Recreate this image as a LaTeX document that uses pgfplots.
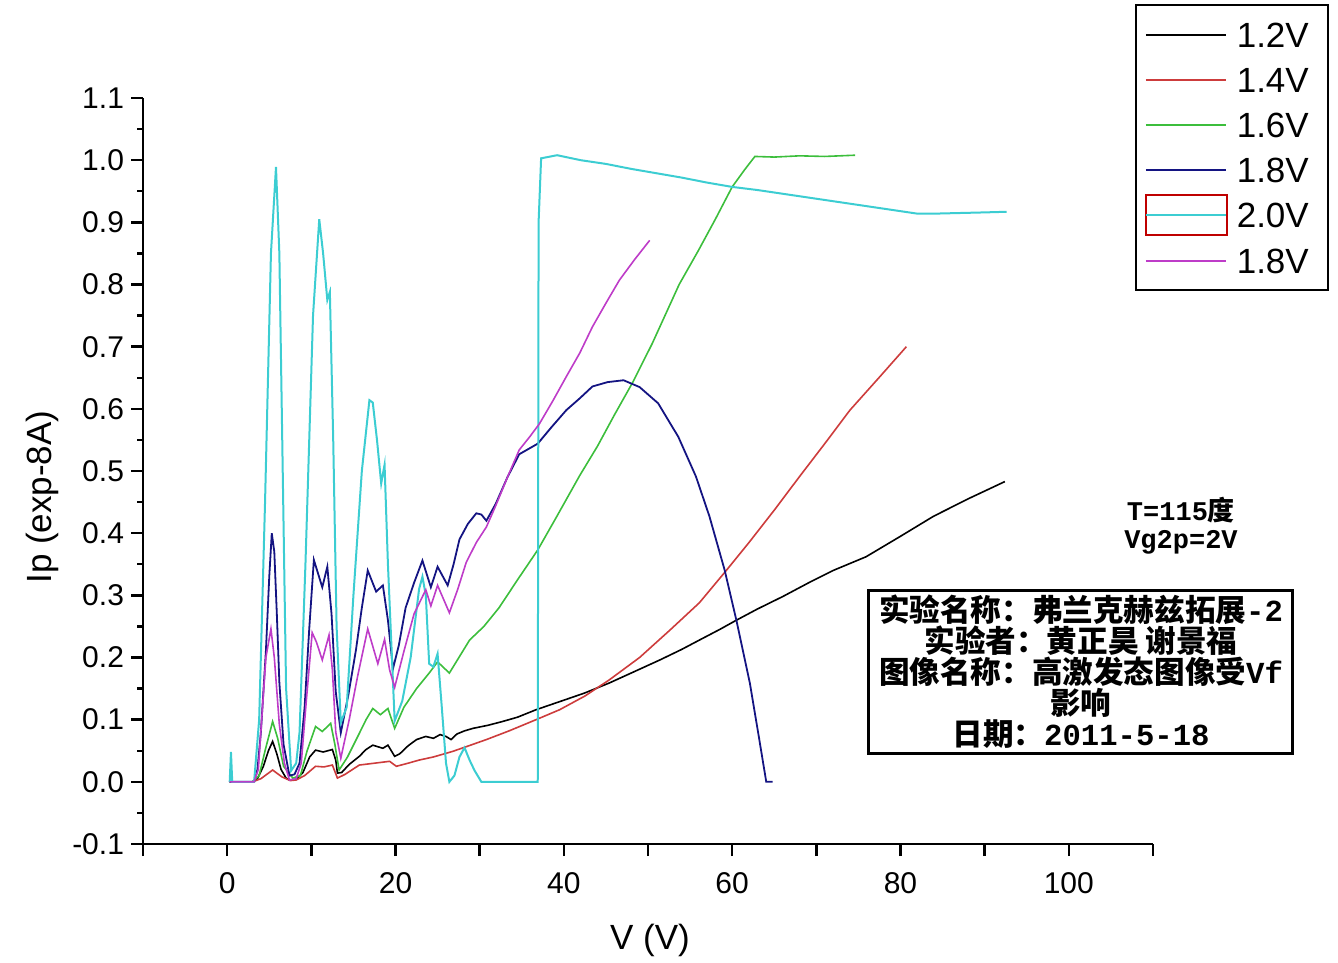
\documentclass[border=0pt]{standalone}
\usepackage{pgfplots}
\pgfplotsset{compat=1.18}
\usepackage{fontspec}
\setmainfont{Liberation Sans}
\newfontfamily\cjk{Noto Sans CJK SC}
\newfontfamily\mono{Liberation Mono}
\definecolor{cred}{RGB}{205,60,60}
\definecolor{cgreen}{RGB}{60,190,60}
\definecolor{cnavy}{RGB}{20,20,130}
\definecolor{ccyan}{RGB}{60,205,210}
\definecolor{cmag}{RGB}{190,60,200}
\pgfplotsset{
  lineleg/.style={legend image code/.code={\draw[##1, line width=1pt] (0pt,0pt) -- (40pt,0pt);}},
  boxleg/.style={legend image code/.code={\draw[overlay, red!75!black, line width=1pt] (0pt,-10pt) rectangle (40.5pt,10pt); \draw[##1, line width=1pt] (0pt,0pt) -- (40pt,0pt);}},
}
\begin{document}
\begin{tikzpicture}
\begin{axis}[
  scale only axis, width=505pt, height=373pt,
  xmin=-10, xmax=110, ymin=-0.1, ymax=1.1,
  axis x line*=bottom, axis y line*=left,
  axis line style={line width=1.4pt},
  xtick={-10,0,10,20,30,40,50,60,70,80,90,100,110},
  xticklabels={,0,,20,,40,,60,,80,,100,},
  ytick={-0.1,0,0.1,0.2,0.3,0.4,0.5,0.6,0.7,0.8,0.9,1.0,1.1},
  yticklabels={-0.1,0.0,0.1,0.2,0.3,0.4,0.5,0.6,0.7,0.8,0.9,1.0,1.1},
  minor ytick={-0.05,0.05,0.15,0.25,0.35,0.45,0.55,0.65,0.75,0.85,0.95,1.05},
  tick align=outside,
  major tick length=6pt, minor tick length=3pt,
  major tick style={line width=1.2pt, black},
  minor tick style={line width=1.2pt, black},
  tick label style={font=\fontsize{15}{17}\selectfont},
  xticklabel style={yshift=-4.5pt},
  every axis x label/.style={at={(rel axis cs:0.502,-0.1287)}, anchor=center, font=\fontsize{17.5}{20}\selectfont},
  every axis y label/.style={at={(rel axis cs:-0.1,0.465)}, rotate=90, anchor=center, font=\fontsize{17.5}{20}\selectfont},
  xlabel={V (V)}, ylabel={Ip (exp-8A)},
  clip=false,
  legend cell align=left,
  lineleg,
  legend style={at={(rel axis cs:0.982,1.126)}, anchor=north west, draw=black, line width=1pt,
    font=\fontsize{17.5}{20}\selectfont, inner xsep=4.5pt, inner ysep=6.5pt,
    nodes={inner xsep=5pt, inner ysep=2pt, text height=12.5pt, text depth=0pt}, row sep=6.1pt},
]
\addplot[black, line width=0.8pt] coordinates {(0.3,0)(1,0)(2,0)(3,0)(3.6,0.005)(4.3,0.025)(4.9,0.05)(5.4,0.065)(5.9,0.045)(6.4,0.02)(7.0,0.006)(7.4,0.003)(8.2,0.004)(9.0,0.015)(9.8,0.04)(10.5,0.051)(11.4,0.048)(12.5,0.052)(12.9,0.035)(13.1,0.014)(13.6,0.015)(14.5,0.028)(15.7,0.041)(16.5,0.052)(17.3,0.059)(18.5,0.054)(19.1,0.059)(19.9,0.041)(20.5,0.045)(21.5,0.058)(22.5,0.068)(23.6,0.073)(24.5,0.07)(25.3,0.076)(26.0,0.073)(26.6,0.068)(27.3,0.077)(28.2,0.082)(29.2,0.086)(31,0.091)(32.7,0.097)(34.5,0.104)(36.7,0.116)(39.5,0.129)(42.5,0.143)(45.4,0.159)(48,0.175)(51.4,0.196)(54,0.213)(56.1,0.228)(58.5,0.245)(60.5,0.26)(63,0.278)(66,0.298)(69.2,0.321)(72,0.34)(75.9,0.362)(80,0.395)(83.9,0.427)(88,0.455)(92.4,0.483)};
\addlegendentry{1.2V}
\addplot[cred, line width=0.8pt] coordinates {(0.3,0)(3,0)(4,0.005)(5.4,0.019)(6.5,0.008)(7.5,0.002)(8.2,0.003)(9.2,0.01)(10.5,0.025)(11.5,0.024)(12.5,0.027)(13.1,0.006)(14,0.012)(15.7,0.027)(17.5,0.03)(19.3,0.033)(20.1,0.025)(21.5,0.03)(22.8,0.035)(24.5,0.04)(26.8,0.049)(28.5,0.057)(30.8,0.068)(33.5,0.082)(36.7,0.10)(39.5,0.116)(42.5,0.138)(45.4,0.164)(49,0.2)(52.6,0.244)(56.1,0.288)(59.3,0.34)(62,0.385)(65,0.437)(68,0.491)(71,0.544)(74,0.598)(77.5,0.651)(80.7,0.70)};
\addlegendentry{1.4V}
\addplot[cgreen, line width=0.8pt] coordinates {(0.3,0)(3,0)(3.8,0.01)(4.5,0.05)(5.4,0.097)(6.0,0.07)(6.7,0.025)(7.8,0.006)(8.7,0.01)(9.5,0.05)(10.5,0.089)(11.3,0.081)(12.3,0.094)(12.8,0.06)(13.3,0.019)(14.3,0.04)(15.7,0.078)(16.5,0.1)(17.3,0.118)(18.2,0.108)(19.1,0.118)(19.9,0.086)(21,0.12)(22.5,0.15)(24.0,0.175)(25.0,0.193)(26.4,0.175)(28.8,0.228)(30.5,0.25)(32.3,0.28)(34.5,0.325)(36.9,0.373)(39,0.423)(41.9,0.493)(44,0.54)(46,0.59)(48.2,0.643)(50.5,0.705)(53.7,0.8)(56,0.855)(58,0.905)(60,0.957)(61.5,0.985)(62.7,1.006)(65,1.005)(68,1.007)(71,1.006)(74.6,1.008)};
\addlegendentry{1.6V}
\addplot[cnavy, line width=0.9pt] coordinates {(0.3,0)(3.2,0)(3.6,0.02)(4.0,0.079)(4.6,0.21)(5.0,0.33)(5.3,0.40)(5.6,0.37)(5.9,0.27)(6.2,0.16)(6.7,0.06)(7.4,0.01)(8.0,0.012)(8.6,0.03)(9.2,0.12)(9.75,0.246)(10.3,0.357)(10.8,0.335)(11.3,0.313)(11.9,0.346)(12.4,0.27)(12.9,0.145)(13.5,0.079)(14.4,0.14)(15.3,0.212)(16.0,0.28)(16.7,0.34)(17.7,0.306)(18.5,0.316)(19.1,0.26)(19.7,0.182)(20.4,0.22)(21.2,0.28)(22.2,0.32)(23.2,0.356)(24.2,0.313)(25.0,0.346)(26.2,0.316)(26.9,0.35)(27.6,0.39)(28.6,0.415)(29.6,0.432)(30.2,0.43)(30.8,0.42)(31.9,0.447)(33.3,0.49)(34.7,0.527)(36.9,0.544)(38.5,0.57)(40.3,0.598)(41.9,0.617)(43.4,0.636)(45.2,0.643)(47.1,0.646)(49,0.635)(51.2,0.609)(53.6,0.555)(55.7,0.491)(57.3,0.427)(59.1,0.341)(60.5,0.26)(62.1,0.159)(63.2,0.07)(64.05,0.0)(64.8,0)};
\addlegendentry{1.8V}
\addplot[ccyan, line width=1pt, boxleg] coordinates {(0.3,0)(0.45,0.048)(0.6,0)(1,0)(3.2,0)(3.8,0.1)(4.5,0.45)(5.2,0.85)(5.8,0.989)(6.2,0.85)(6.6,0.5)(7.0,0.15)(7.6,0.018)(8.2,0.03)(8.6,0.08)(9.3,0.35)(10.2,0.75)(10.94,0.905)(11.4,0.85)(11.9,0.775)(12.2,0.788)(12.6,0.55)(13.0,0.25)(13.5,0.095)(14.2,0.12)(15.0,0.3)(16.0,0.5)(16.9,0.614)(17.3,0.61)(17.8,0.55)(18.3,0.48)(18.7,0.51)(19.1,0.35)(19.9,0.098)(20.8,0.13)(21.8,0.2)(22.8,0.31)(23.2,0.33)(23.6,0.3)(24.0,0.19)(24.5,0.185)(25.0,0.206)(25.5,0.12)(26.0,0.03)(26.4,0.0)(27.0,0.01)(27.6,0.04)(28.2,0.055)(28.8,0.035)(29.4,0.018)(30.2,0)(33,0)(36.9,0)(37.0,0.9)(37.3,1.003)(39.2,1.008)(42,1.0)(45,0.994)(48,0.986)(51,0.979)(54,0.972)(57,0.964)(60,0.957)(63,0.952)(66,0.946)(69,0.94)(72,0.934)(75,0.928)(78,0.922)(80,0.918)(82,0.914)(84,0.914)(87,0.915)(90,0.916)(92.6,0.917)};
\addlegendentry{2.0V}
\addplot[cmag, line width=0.8pt] coordinates {(0.3,0)(3.2,0)(3.7,0.02)(4.2,0.12)(4.6,0.20)(5.2,0.246)(5.6,0.2)(6.2,0.092)(6.8,0.03)(7.4,0.003)(8.2,0.005)(8.8,0.03)(9.4,0.13)(10.1,0.24)(10.6,0.225)(11.3,0.196)(12.1,0.236)(12.5,0.18)(12.9,0.08)(13.5,0.038)(14.5,0.1)(15.5,0.17)(16.7,0.246)(17.9,0.19)(18.7,0.229)(19.3,0.18)(19.9,0.152)(21,0.21)(22.2,0.27)(23.6,0.309)(24.2,0.283)(25.0,0.316)(26.4,0.272)(27.4,0.31)(28.4,0.353)(29.6,0.385)(30.8,0.41)(31.9,0.444)(33.3,0.49)(34.7,0.534)(36,0.556)(37.1,0.576)(38.7,0.613)(40.3,0.652)(41.9,0.69)(43.4,0.732)(45,0.77)(46.6,0.807)(48.4,0.84)(50.2,0.871)};
\addlegendentry{1.8V}
\node[font=\cjk\bfseries\fontsize{13.5}{14}\selectfont, align=center, inner sep=0pt] at (rel axis cs:1.0277,0.4263) {{\mono\bfseries T=115}度\\{\mono\bfseries Vg2p=2V}};
\node[draw, line width=1.5pt, minimum width=212pt, minimum height=81.5pt, align=center, inner sep=0pt, execute at begin node={\lineskiplimit=-20pt\lineskip=0pt}, font=\cjk\bfseries\fontsize{15.3}{15.5}\selectfont] at (rel axis cs:0.9287,0.2312) {实验名称：弗兰克赫兹拓展{\mono\bfseries -2}\\实验者：黄正昊\ 谢景福\\图像名称：高激发态图像受{\mono\bfseries Vf}\\影响\\日期：{\mono\bfseries 2011-5-18}};
\path (rel axis cs:-0.1416,-0.1555) rectangle (rel axis cs:1.1832,1.1314);
\end{axis}
\end{tikzpicture}
\end{document}
